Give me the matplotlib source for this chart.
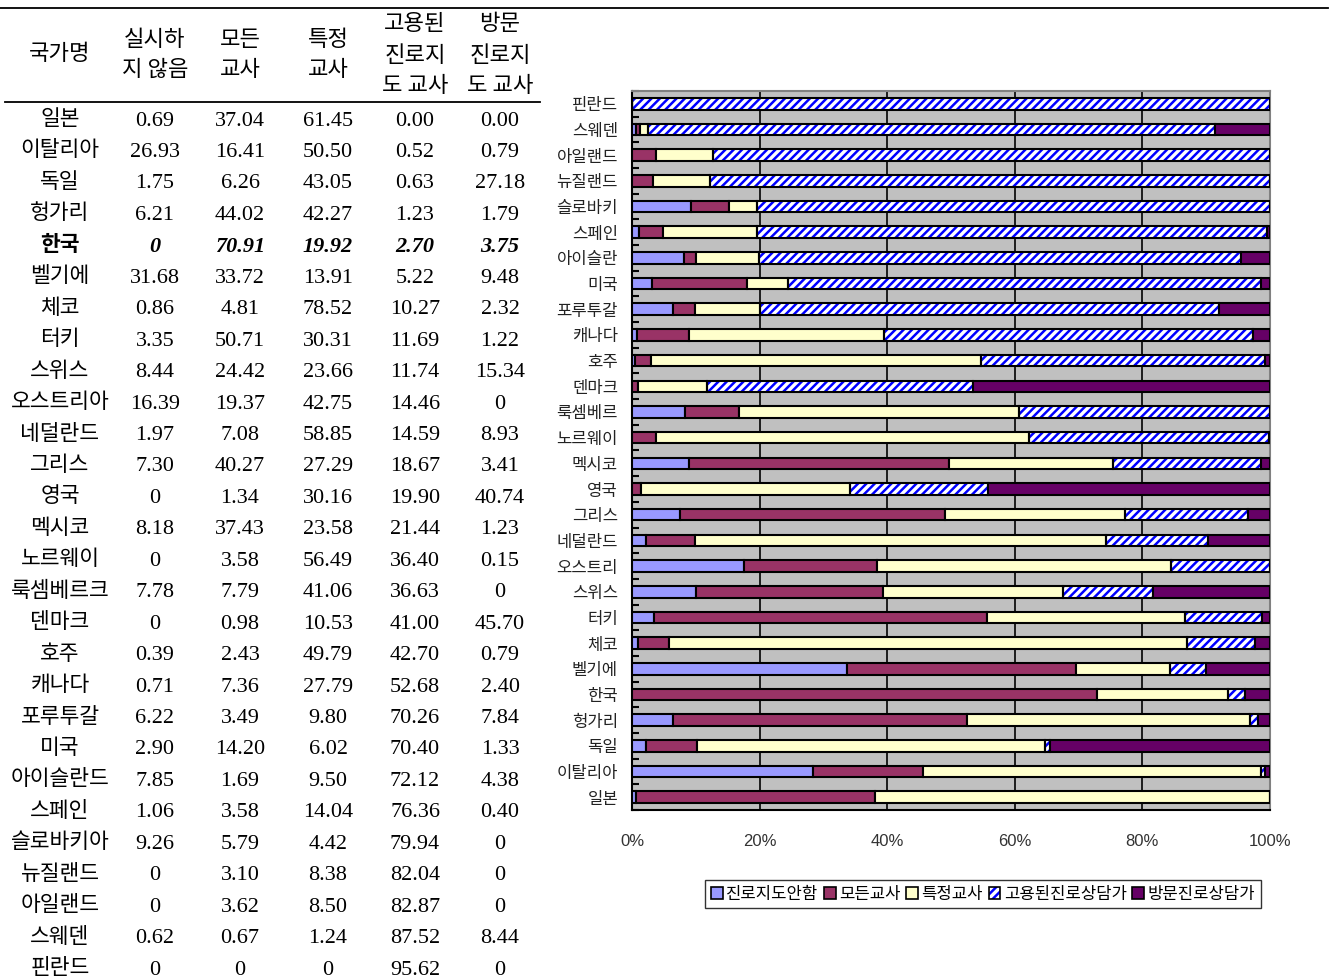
import numpy as np
import matplotlib
matplotlib.use('Agg')
import matplotlib.pyplot as plt
from matplotlib.patches import Patch
from matplotlib.ticker import PercentFormatter, FixedLocator

# table rows (top to bottom); the chart draws them bottom to top
countries = ['일본', '이탈리아', '독일', '헝가리', '한국', '벨기에', '체코', '터키', '스위스',
             '오스트리아', '네덜란드', '그리스', '영국', '멕시코', '노르웨이', '룩셈베르크',
             '덴마크', '호주', '캐나다', '포루투갈', '미국', '아이슬란드', '스페인',
             '슬로바키아', '뉴질랜드', '아일랜드', '스웨덴', '핀란드']
chart_names = ['일본', '이탈리아', '독일', '헝가리', '한국', '벨기에', '체코', '터키', '스위스',
               '오스트리', '네덜란드', '그리스', '영국', '멕시코', '노르웨이', '룩셈베르',
               '덴마크', '호주', '캐나다', '포루투갈', '미국', '아이슬란', '스페인',
               '슬로바키', '뉴질랜드', '아일랜드', '스웨덴', '핀란드']

no_guidance = ['0.69', '26.93', '1.75', '6.21', '0', '31.68', '0.86', '3.35', '8.44',
               '16.39', '1.97', '7.30', '0', '8.18', '0', '7.78', '0', '0.39', '0.71',
               '6.22', '2.90', '7.85', '1.06', '9.26', '0', '0', '0.62', '0']
all_teachers = ['37.04', '16.41', '6.26', '44.02', '70.91', '33.72', '4.81', '50.71', '24.42',
                '19.37', '7.08', '40.27', '1.34', '37.43', '3.58', '7.79', '0.98', '2.43',
                '7.36', '3.49', '14.20', '1.69', '3.58', '5.79', '3.10', '3.62', '0.67', '0']
special_teachers = ['61.45', '50.50', '43.05', '42.27', '19.92', '13.91', '78.52', '30.31',
                    '23.66', '42.75', '58.85', '27.29', '30.16', '23.58', '56.49', '41.06',
                    '10.53', '49.79', '27.79', '9.80', '6.02', '9.50', '14.04', '4.42', '8.38',
                    '8.50', '1.24', '0']
hired_counselors = ['0.00', '0.52', '0.63', '1.23', '2.70', '5.22', '10.27', '11.69', '11.74',
                    '14.46', '14.59', '18.67', '19.90', '21.44', '36.40', '36.63', '41.00',
                    '42.70', '52.68', '70.26', '70.40', '72.12', '76.36', '79.94', '82.04',
                    '82.87', '87.52', '95.62']
visiting_counselors = ['0.00', '0.79', '27.18', '1.79', '3.75', '9.48', '2.32', '1.22', '15.34',
                       '0', '8.93', '3.41', '40.74', '1.23', '0.15', '0', '45.70', '0.79', '2.40',
                       '7.84', '1.33', '4.38', '0.40', '0', '0', '0', '8.44', '0']

series_names = ['진로지도안함', '모든교사', '특정교사', '고용된진로상담가', '방문진로상담가']
header_lines = [['국가명'], ['실시하', '지 않음'], ['모든', '교사'], ['특정', '교사'],
                ['고용된', '진로지', '도 교사'], ['방문', '진로지', '도 교사']]
highlight = '한국'

columns = [no_guidance, all_teachers, special_teachers, hired_counselors, visiting_counselors]
values = np.array([[float(v) for v in col] for col in columns])
shares = values / values.sum(axis=0)

W, H = 1339, 980
fig = plt.figure(figsize=(W / 100, H / 100), dpi=100)

def px(x, y):
    return x / W, 1 - y / H

# ---------- table ----------
KR = ['Noto Sans CJK KR', 'DejaVu Sans']
NUM = ['Liberation Serif', 'Noto Sans CJK KR']
fig.add_artist(plt.Line2D([0, 1328 / W], [1 - 8 / H] * 2, color='black', lw=1.3))
fig.add_artist(plt.Line2D([5 / W, 540 / W], [1 - 102 / H] * 2, color='black', lw=1.3))

col_x = [60, 155, 240, 328, 415, 500]
header_y = {1: [54], 2: [39, 69], 3: [24, 55, 86]}
for cx, lines in zip(col_x, header_lines):
    for ly, line in zip(header_y[len(lines)], lines):
        fig.text(*px(cx, ly), line, ha='center', va='center', family=KR, fontsize=16)

row_y0, row_step = 120, 31.45
for i, name in enumerate(countries):
    y = row_y0 + i * row_step
    bold = name == highlight
    fig.text(*px(col_x[0], y - 1), name, ha='center', va='center', family=KR, fontsize=15.5,
             fontweight='bold' if bold else 'normal')
    for cx, col in zip(col_x[1:], columns):
        fig.text(*px(cx, y + 1), col[i], ha='center', va='center', family=NUM, fontsize=16,
                 fontweight='bold' if bold else 'normal',
                 fontstyle='italic' if bold else 'normal')

# ---------- stacked bar chart ----------
plt.rcParams['hatch.linewidth'] = 1.8
ax = fig.add_axes([632 / W, 1 - 810 / H, (1270 - 632) / W, (810 - 91) / H])
ax.set_facecolor('#C0C0C0')

colors = ['#9999FF', '#993366', '#FFFFCC', 'white', '#660066']
ypos = np.arange(len(countries))
bar_h = 0.45
left = np.zeros(len(countries))
for k, (share, color) in enumerate(zip(shares, colors)):
    if k == 3:
        ax.barh(ypos, share, left=left, height=bar_h, color='white', edgecolor='#0000FF',
                hatch='////', lw=0, zorder=2)
        ax.barh(ypos, share, left=left, height=bar_h, fill=False, edgecolor='black',
                lw=1.5, zorder=3)
    else:
        ax.barh(ypos, share, left=left, height=bar_h, color=color, edgecolor='black',
                lw=1.5, zorder=3)
    left += share

ax.set_xlim(0, 1)
ax.set_ylim(-0.5, len(countries) - 0.5)
ax.set_xticks(np.arange(0, 1.01, 0.2))
ax.xaxis.set_major_formatter(PercentFormatter(1.0, decimals=0))
ax.grid(axis='x', color='black', lw=1.2, zorder=1)
ax.set_axisbelow(True)
ax.tick_params(axis='x', length=0, pad=17, labelsize=12)
for lab in ax.get_xticklabels():
    lab.set_family(['Liberation Sans', 'DejaVu Sans'])
    lab.set_color('#333333')

ax.set_yticks(ypos)
ax.set_yticklabels(chart_names, family=KR, fontsize=12, color='#222222')
ax.tick_params(axis='y', which='major', length=0, pad=10)
ax.yaxis.set_minor_locator(FixedLocator(np.arange(-0.5, len(countries), 1)))
ax.tick_params(axis='y', which='minor', direction='in', length=5, width=1.5, color='black')

for side in ['left', 'bottom']:
    ax.spines[side].set_color('black')
    ax.spines[side].set_linewidth(1.5)
for side in ['top', 'right']:
    ax.spines[side].set_color('#808080')
    ax.spines[side].set_linewidth(1.5)

handles = []
for k, color in enumerate(colors):
    if k == 3:
        handles.append((Patch(facecolor='white', edgecolor='#0000FF', hatch='////', lw=0),
                        Patch(fill=False, edgecolor='black', lw=1.2)))
    else:
        handles.append(Patch(facecolor=color, edgecolor='black', lw=1.2))
leg = fig.legend(handles, series_names, loc='center', bbox_to_anchor=px(983, 894), ncol=5,
                 prop={'family': KR, 'size': 12}, frameon=True, fancybox=False,
                 edgecolor='black', handlelength=0.7, handleheight=0.7, handletextpad=0.2,
                 columnspacing=0.35, borderpad=0.35, borderaxespad=0)
leg.get_frame().set_linewidth(1.0)

fig.savefig('out.png', dpi=100)
